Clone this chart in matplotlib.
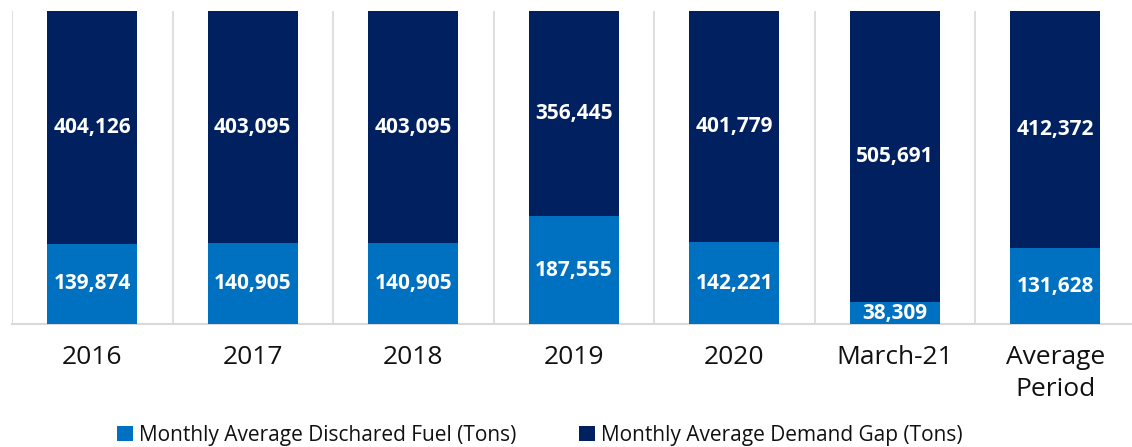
import matplotlib.pyplot as plt
import numpy as np

plt.rcParams['font.family'] = ['Open Sans', 'DejaVu Sans']

categories = ['2016', '2017', '2018', '2019', '2020', 'March-21', 'Average\nPeriod']
discharged = [139874, 140905, 140905, 187555, 142221, 38309, 131628]
demand_gap = [404126, 403095, 403095, 356445, 401779, 505691, 412372]

light_blue = '#0070C0'
navy = '#002060'

fig = plt.figure(figsize=(11.32, 4.47), dpi=100)
ax = fig.add_axes([0.0106, 0.275, 0.9925, 0.7])

x = np.arange(len(categories))
width = 0.56

b1 = ax.bar(x, discharged, width, color=light_blue,
            label='Monthly Average Dischared Fuel (Tons)', zorder=3)
b2 = ax.bar(x, demand_gap, width, bottom=discharged, color=navy,
            label='Monthly Average Demand Gap (Tons)', zorder=3)

# value labels in the middle of each segment
for i in range(len(x)):
    ax.text(x[i], discharged[i] / 2, f'{discharged[i]:,}', ha='center', va='center',
            color='white', fontsize=15, fontweight='bold', zorder=4)
    ax.text(x[i], discharged[i] + demand_gap[i] / 2, f'{demand_gap[i]:,}',
            ha='center', va='center', color='white', fontsize=15,
            fontweight='bold', zorder=4)

total = max(d + g for d, g in zip(discharged, demand_gap))
ax.set_xlim(-0.5, len(categories) - 0.5)
ax.set_ylim(0, total)

ax.set_xticks(x)
ax.set_xticklabels(categories, fontsize=19, color='#111111', linespacing=1.35)
ax.tick_params(axis='x', length=0, pad=15)
ax.set_xticks(np.arange(-0.5, len(categories), 1), minor=True)
ax.tick_params(axis='x', which='minor', length=0)
ax.grid(True, axis='x', which='minor', color='#D9D9D9', linewidth=1.2, zorder=0)
ax.set_yticks([])

for s in ['top', 'right', 'left']:
    ax.spines[s].set_visible(False)
ax.spines['bottom'].set_color('#D9D9D9')
ax.spines['bottom'].set_linewidth(1.5)

fig.legend(handles=[b1, b2], loc='lower center', bbox_to_anchor=(0.477, -0.04),
           ncol=2, frameon=False, fontsize=15, handlelength=0.75, handleheight=0.75,
           handletextpad=0.3, columnspacing=3.0, labelcolor='#111111')

fig.savefig('out.png', dpi=100)
